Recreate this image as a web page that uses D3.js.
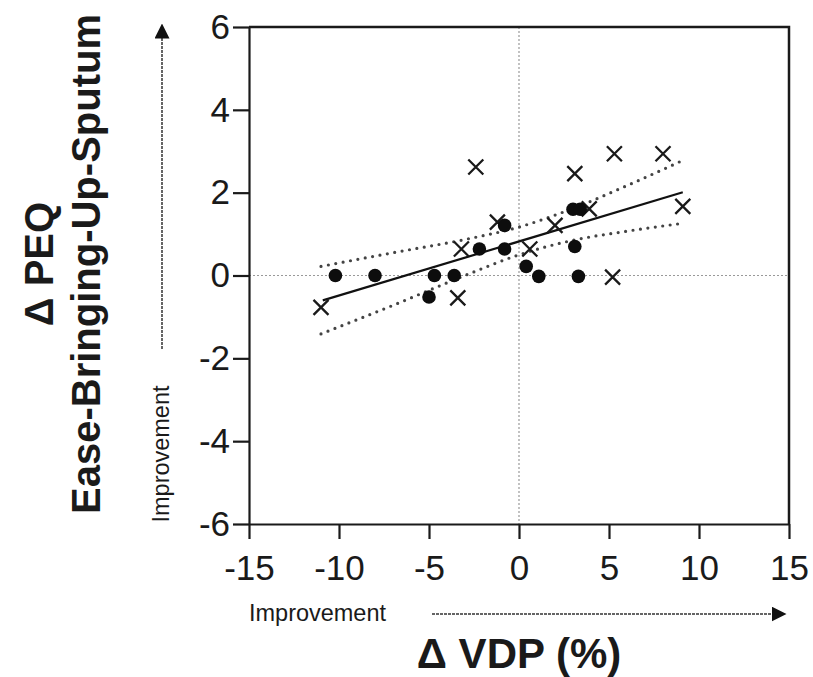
<!DOCTYPE html>
<html>
<head>
    <meta charset="UTF-8">
    <title>PEQ vs VDP</title>
    <style>
        body { margin: 0; background: #fff; }
        text { font-family: "Liberation Sans", Arial, sans-serif; fill: #1a1a1a; }
    </style>
</head>
<body>
    <div id="chart"></div>

    <script src="https://cdn.jsdelivr.net/npm/d3@7"></script>
    <script>
        // data
        var dotX = [-10.2, -8.0, -4.7, -3.6, -5.0, -2.2, -0.8, -0.8, 0.4, 1.1, 3.1, 3.3, 3.0, 3.4];
        var dotY = [0, 0, 0, 0, -0.52, 0.64, 0.64, 1.21, 0.22, -0.02, 0.70, -0.02, 1.6, 1.6];
        var crossX = [-11.0, -3.4, -3.2, -1.2, -2.4, 0.6, 2.0, 3.1, 3.9, 5.3, 8.0, 9.1, 5.2];
        var crossY = [-0.77, -0.54, 0.64, 1.29, 2.62, 0.64, 1.21, 2.46, 1.61, 2.94, 2.94, 1.67, -0.04];

        var fitX = [-10.9, 9.1];
        var fitY = [-0.60, 2.01];
        var bandX = [-11, -7, -3, 0, 3, 6, 9.1];
        var bandUpper = [0.22, 0.55, 0.87, 1.17, 1.62, 2.17, 2.78];
        var bandLower = [-1.41, -0.72, 0.0, 0.50, 0.85, 1.07, 1.26];

        var xTicks = [-15, -10, -5, 0, 5, 10, 15];
        var yTicks = [-6, -4, -2, 0, 2, 4, 6];

        var width = 813;
        var height = 677;
        var margin = { top: 27, right: 24, bottom: 153, left: 249 };
        var innerW = width - margin.left - margin.right;
        var innerH = height - margin.top - margin.bottom;

        var svg = d3.select("#chart")
            .append("svg")
            .attr("width", width)
            .attr("height", height);

        svg.append("defs").append("marker")
            .attr("id", "head")
            .attr("viewBox", "0 0 10 10")
            .attr("refX", 1)
            .attr("refY", 5)
            .attr("markerWidth", 15)
            .attr("markerHeight", 15)
            .attr("markerUnits", "userSpaceOnUse")
            .attr("orient", "auto")
            .append("path")
            .attr("d", "M0,0 L10,5 L0,10 Z")
            .attr("fill", "#111");

        var x = d3.scaleLinear().domain([-15, 15]).range([0, innerW]);
        var y = d3.scaleLinear().domain([-6, 6]).range([innerH, 0]);

        var g = svg.append("g")
            .attr("transform", "translate(" + margin.left + "," + margin.top + ")");

        // zero reference lines
        g.append("line")
            .attr("x1", x(0)).attr("x2", x(0))
            .attr("y1", 0).attr("y2", innerH)
            .style("stroke", "#999")
            .style("stroke-width", 1.2)
            .style("stroke-dasharray", "2,2");
        g.append("line")
            .attr("x1", 0).attr("x2", innerW)
            .attr("y1", y(0)).attr("y2", y(0))
            .style("stroke", "#999")
            .style("stroke-width", 1.2)
            .style("stroke-dasharray", "2,2");

        // frame top + right
        g.append("path")
            .attr("d", "M0,0 H" + innerW + " V" + innerH)
            .style("fill", "none")
            .style("stroke", "#1a1a1a")
            .style("stroke-width", 2.5);

        var plain = function (d) { return String(d); }; // hyphen, not unicode minus
        var xAxis = g.append("g")
            .attr("transform", "translate(0," + innerH + ")")
            .call(d3.axisBottom(x).tickValues(xTicks).tickFormat(plain)
                .tickSize(15).tickSizeOuter(0).tickPadding(16));
        var yAxis = g.append("g")
            .call(d3.axisLeft(y).tickValues(yTicks).tickFormat(plain)
                .tickSize(16).tickSizeOuter(0).tickPadding(3));

        [xAxis, yAxis].forEach(function (a) {
            a.selectAll("path, line").style("stroke", "#1a1a1a").style("stroke-width", 2.2);
            a.selectAll("text")
                .style("font-family", "'Liberation Sans', Arial, sans-serif")
                .style("font-size", "35px")
                .style("fill", "#1a1a1a");
        });

        // confidence band
        var band = d3.line()
            .x(function (d) { return x(d[0]); })
            .y(function (d) { return y(d[1]); })
            .curve(d3.curveMonotoneX);
        [bandUpper, bandLower].forEach(function (vals) {
            g.append("path")
                .datum(bandX.map(function (v, i) { return [v, vals[i]]; }))
                .attr("d", band)
                .style("fill", "none")
                .style("stroke", "#444")
                .style("stroke-width", 3.2)
                .style("stroke-linecap", "round")
                .style("stroke-dasharray", "0,7.5");
        });

        // regression line
        g.append("line")
            .attr("x1", x(fitX[0])).attr("y1", y(fitY[0]))
            .attr("x2", x(fitX[1])).attr("y2", y(fitY[1]))
            .style("stroke", "#111")
            .style("stroke-width", 2.2);

        // crosses
        var k = 7.5;
        g.append("g")
            .selectAll("path")
            .data(crossX)
            .enter()
            .append("path")
            .attr("d", function (d, i) {
                var cx = x(d), cy = y(crossY[i]);
                return "M" + (cx - k) + "," + (cy - k) + "L" + (cx + k) + "," + (cy + k) +
                    "M" + (cx - k) + "," + (cy + k) + "L" + (cx + k) + "," + (cy - k);
            })
            .style("stroke", "#1a1a1a")
            .style("stroke-width", 2.3)
            .style("fill", "none");

        // dots
        g.append("g")
            .selectAll("circle")
            .data(dotX)
            .enter()
            .append("circle")
            .attr("cx", function (d) { return x(d); })
            .attr("cy", function (d, i) { return y(dotY[i]); })
            .attr("r", 6.8)
            .style("fill", "#0d0d0d");

        // x side: improvement arrow + title
        svg.append("text")
            .attr("x", 249)
            .attr("y", 621)
            .attr("textLength", 137)
            .attr("lengthAdjust", "spacingAndGlyphs")
            .style("font-size", "24px")
            .text("Improvement");
        svg.append("line")
            .attr("x1", 432).attr("y1", 614)
            .attr("x2", 773).attr("y2", 614)
            .style("stroke", "#333")
            .style("stroke-width", 1.5)
            .style("stroke-dasharray", "3,1")
            .attr("marker-end", "url(#head)");
        svg.append("text")
            .attr("x", x(0) + margin.left)
            .attr("y", 668)
            .attr("text-anchor", "middle")
            .style("font-size", "42px")
            .style("font-weight", "bold")
            .text("\u0394 VDP (%)");

        // y side: improvement arrow + title
        svg.append("line")
            .attr("x1", 162).attr("y1", 349)
            .attr("x2", 162).attr("y2", 37)
            .style("stroke", "#333")
            .style("stroke-width", 1.5)
            .style("stroke-dasharray", "3,1")
            .attr("marker-end", "url(#head)");
        svg.append("text")
            .attr("transform", "translate(169,454) rotate(-90)")
            .attr("text-anchor", "middle")
            .attr("textLength", 137)
            .attr("lengthAdjust", "spacingAndGlyphs")
            .style("font-size", "24px")
            .text("Improvement");
        svg.append("text")
            .attr("transform", "translate(53,264) rotate(-90)")
            .attr("text-anchor", "middle")
            .style("font-size", "40px")
            .style("font-weight", "bold")
            .text("\u0394 PEQ");
        svg.append("text")
            .attr("transform", "translate(100,264) rotate(-90)")
            .attr("text-anchor", "middle")
            .style("font-size", "40px")
            .style("font-weight", "bold")
            .text("Ease-Bringing-Up-Sputum");
    </script>
</body>
</html>
